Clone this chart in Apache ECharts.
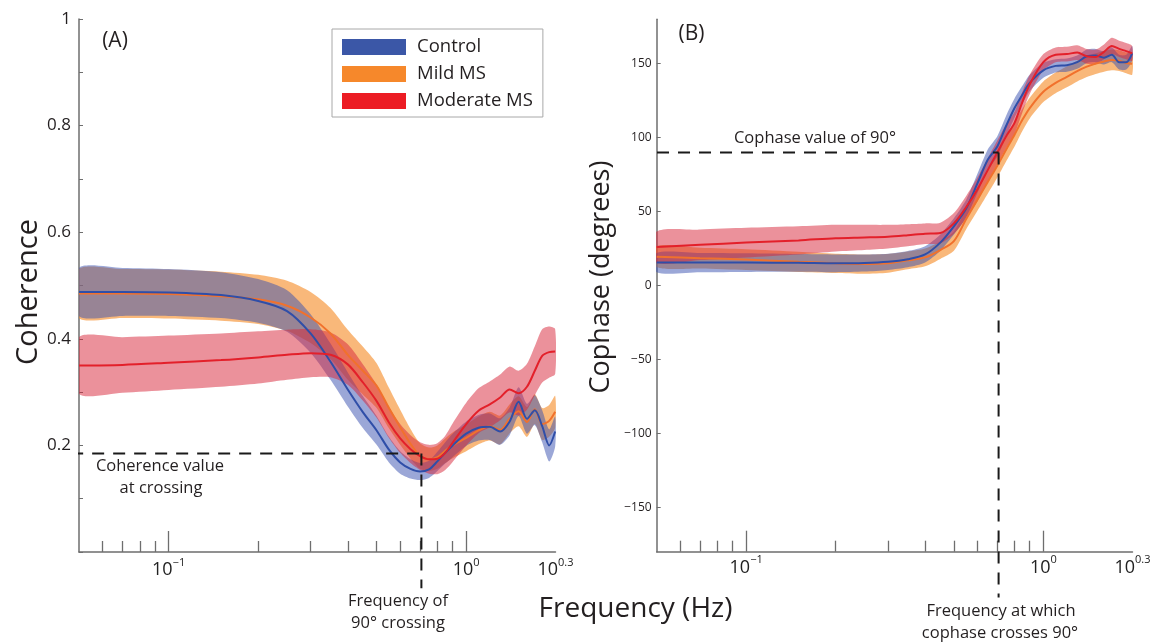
<!DOCTYPE html>
<html><head><meta charset="utf-8">
<script src="https://cdn.jsdelivr.net/npm/echarts@6.0.0/dist/echarts.min.js"></script>
<style>html,body{margin:0;padding:0;background:#fff}#c{width:1161px;height:642px}</style>
</head><body><div id="c"></div>
<script>
// ---------- data ----------
const seriesNames = ['Control', 'Mild MS', 'Moderate MS'];

// Panel A: coherence
const freqA = [0.05,0.07,0.1,0.15,0.2,0.25,0.3,0.35,0.4,0.45,0.5,0.55,0.6,0.65,0.7,0.75,0.8,0.85,0.9,1.0,1.1,1.2,1.3,1.4,1.5,1.6,1.7,1.8,1.9,1.99];
const cohControl  = [0.488,0.488,0.487,0.482,0.471,0.452,0.41,0.357,0.305,0.262,0.228,0.192,0.168,0.156,0.151,0.155,0.17,0.186,0.2,0.222,0.233,0.235,0.226,0.245,0.282,0.25,0.266,0.236,0.2,0.226];
const cohMild     = [0.485,0.485,0.484,0.48,0.474,0.462,0.44,0.41,0.37,0.34,0.312,0.27,0.234,0.203,0.18,0.174,0.178,0.19,0.2,0.214,0.228,0.236,0.229,0.25,0.264,0.244,0.268,0.24,0.246,0.263];
const cohModerate = [0.35,0.351,0.355,0.36,0.365,0.37,0.373,0.37,0.352,0.318,0.283,0.243,0.213,0.193,0.18,0.174,0.175,0.186,0.205,0.24,0.265,0.277,0.29,0.305,0.298,0.31,0.34,0.368,0.375,0.376];
const cohControlSpread  = [0.045,0.045,0.044,0.043,0.041,0.039,0.036,0.034,0.032,0.03,0.027,0.024,0.021,0.018,0.016,0.016,0.018,0.02,0.022,0.023,0.024,0.025,0.025,0.026,0.027,0.028,0.028,0.03,0.03,0.028];
const cohMildSpread     = [0.046,0.046,0.046,0.046,0.046,0.047,0.048,0.048,0.047,0.045,0.042,0.038,0.033,0.028,0.024,0.022,0.022,0.023,0.024,0.025,0.026,0.027,0.027,0.027,0.028,0.028,0.028,0.03,0.03,0.03];
const cohModerateSpread = [0.053,0.052,0.051,0.05,0.049,0.047,0.045,0.042,0.038,0.034,0.031,0.029,0.027,0.026,0.026,0.027,0.029,0.032,0.036,0.04,0.042,0.043,0.043,0.043,0.042,0.043,0.046,0.05,0.048,0.042];

// Panel B: cophase (degrees)
const freqB = [0.05,0.07,0.1,0.15,0.2,0.25,0.3,0.35,0.4,0.45,0.5,0.55,0.6,0.65,0.7,0.75,0.8,0.85,0.9,1.0,1.1,1.2,1.3,1.4,1.5,1.6,1.7,1.8,1.9,1.99];
const phaseControl  = [15.5,15.5,15.5,15.3,15,15.2,16,17.8,21,29,40,52,69,85,94,108,120,129,137,145.5,148.5,149,151,155,155.5,154,156,151,151,157];
const phaseMild     = [19.5,18.5,17.5,16,15,14.5,15,17,19,24,30,45,58,70,81,92,102,112,120,131,137,141,145,148,150,151.5,152.5,152,150.5,150];
const phaseModerate = [26,27.5,29,30.5,32,32.5,33,34,35,35.5,42,53,65,78,90,101,110,124,136,151,156,156.5,157.5,155,154.5,158,162,160,158.5,157];
const phaseControlSpread  = [6.5,6.5,6.3,6,6,5.8,5.5,5.5,5.5,5.5,5.5,6,6.5,7,7,7,6.5,6,5.5,5,4.5,4.5,4.5,4.5,4.5,4.5,5,5,5,5];
const phaseMildSpread     = [7,7,7,6.8,6.5,6.5,6.3,6,6,6,6.5,7,7.5,8,8,8,8,7.5,7,7,7,7,7,7,7,7,7,7,7,7.5];
const phaseModerateSpread = [10.5,10.3,10,9.5,9,8.5,8,7.5,7,7,7,7.5,8,8,8,8,7.5,7,6.5,5.5,5,5,5,5,5,5,5.5,5.5,5.5,5];

// Crossing annotation values
const crossingFreq = 0.707;
const crossingCoherence = 0.185;
const crossingPhase = 90;

// Axis ticks
const freqMin = 0.05, freqMaxExp = 0.3;
const majorFreqTicks = [0.1, 1];
const minorFreqTicks = [0.06,0.07,0.08,0.09,0.2,0.3,0.4,0.5,0.6,0.7,0.8,0.9,2];
const freqLabelExps = [-1, 0, 0.3];
const cohTicks = [0,0.1,0.2,0.3,0.4,0.5,0.6,0.7,0.8,0.9,1];
const phaseTicks = [-150,-100,-50,0,50,100,150];

// ---------- styling ----------
const FONT = 'Open Sans';
const lineColors = ['#2f4ea8', '#f1712c', '#e3202a'];
const legendColors = ['#3b57a7', '#f6882b', '#ec1c24'];
const bandColors = ['rgba(55,80,175,0.5)', 'rgba(245,140,40,0.62)', 'rgba(215,35,55,0.5)'];
const axisColor = '#6e6e6e';
const L = Math.log10;
const LMIN = L(freqMin), LMAX = freqMaxExp;

function bandSeries(freq, mean, spread, color, axIdx, z) {
  const upper = freq.map((f, i) => [L(f), mean[i] + spread[i]]);
  const lower = freq.map((f, i) => [L(f), mean[i] - spread[i]]);
  return {
    type: 'custom', xAxisIndex: axIdx.x, yAxisIndex: axIdx.y, silent: true, z: z, clip: true,
    data: freq.map((f, i) => [L(f), mean[i] - spread[i], mean[i] + spread[i]]),
    encode: { x: 0, y: [1, 2] },
    renderItem: function (params, api) {
      if (params.dataIndex !== 0) return null;
      const pts = upper.map(p => api.coord(p)).concat(lower.slice().reverse().map(p => api.coord(p)));
      return { type: 'polygon', shape: { points: pts, smooth: 0.25 }, style: { fill: color } };
    }
  };
}
function lineSeries(name, freq, vals, color, legendColor, axIdx) {
  return {
    type: 'line', name: name, xAxisIndex: axIdx.x, yAxisIndex: axIdx.y, z: 4,
    data: freq.map((f, i) => [L(f), vals[i]]),
    symbol: 'none', smooth: 0.3, silent: true,
    lineStyle: { color: color, width: 2 }, itemStyle: { color: legendColor }
  };
}
function dashSeries(pts, axIdx) {
  return {
    type: 'line', xAxisIndex: axIdx.x, yAxisIndex: axIdx.y, z: 6, clip: false, silent: true,
    data: pts, symbol: 'none',
    lineStyle: { color: '#1a1a1a', width: 2, type: [12, 9] }
  };
}
function expLabel(v) {
  const e = freqLabelExps.find(x => Math.abs(x - v) < 1e-6);
  if (e === undefined) return '';
  const s = e === -1 ? '\u22121' : (e === 0 ? '0' : '0.3');
  return '{b|10}{s|' + s + '}';
}
const richX = {
  b: { fontFamily: FONT, fontSize: 18, color: '#222', lineHeight: 26 },
  s: { fontFamily: FONT, fontSize: 11, color: '#222', lineHeight: 10, verticalAlign: 'top' }
};
function mainX(grid, margin) {
  return {
    type: 'value', gridIndex: grid, min: LMIN, max: LMAX, position: 'bottom',
    axisLine: { show: true, onZero: false, lineStyle: { color: axisColor, width: 1.5 } },
    axisTick: { show: true, inside: true, length: 21, customValues: majorFreqTicks.map(L), lineStyle: { color: axisColor, width: 1.3 } },
    axisLabel: { show: true, customValues: freqLabelExps, formatter: expLabel, rich: richX, margin: margin, hideOverlap: false },
    splitLine: { show: false }
  };
}
function minorX(grid) {
  return {
    type: 'value', gridIndex: grid, min: LMIN, max: LMAX, position: 'bottom',
    axisLine: { show: false, onZero: false },
    axisTick: { show: true, inside: true, length: 11, customValues: minorFreqTicks.map(L), lineStyle: { color: axisColor, width: 1.3 } },
    axisLabel: { show: false }, splitLine: { show: false }
  };
}

const A = { x: 0, y: 0 }, B = { x: 2, y: 1 };
const series = [
  bandSeries(freqA, cohMild, cohMildSpread, bandColors[1], A, 1),
  bandSeries(freqA, cohControl, cohControlSpread, bandColors[0], A, 2),
  bandSeries(freqA, cohModerate, cohModerateSpread, bandColors[2], A, 3),
  lineSeries(seriesNames[1], freqA, cohMild, lineColors[1], legendColors[1], A),
  lineSeries(seriesNames[0], freqA, cohControl, lineColors[0], legendColors[0], A),
  lineSeries(seriesNames[2], freqA, cohModerate, lineColors[2], legendColors[2], A),
  bandSeries(freqB, phaseMild, phaseMildSpread, bandColors[1], B, 1),
  bandSeries(freqB, phaseControl, phaseControlSpread, bandColors[0], B, 2),
  bandSeries(freqB, phaseModerate, phaseModerateSpread, bandColors[2], B, 3),
  lineSeries(seriesNames[1], freqB, phaseMild, lineColors[1], legendColors[1], B),
  lineSeries(seriesNames[0], freqB, phaseControl, lineColors[0], legendColors[0], B),
  lineSeries(seriesNames[2], freqB, phaseModerate, lineColors[2], legendColors[2], B),
  // crossing guides
  dashSeries([[L(0.034), crossingCoherence], [L(crossingFreq), crossingCoherence]], A),
  dashSeries([[L(crossingFreq), crossingCoherence], [L(crossingFreq), -0.068]], A),
  dashSeries([[L(0.0362), crossingPhase], [L(crossingFreq), crossingPhase]], B),
  dashSeries([[L(crossingFreq), crossingPhase], [L(crossingFreq), -211]], B)
];

function txt(text, x, y, size, rot) {
  return {
    type: 'text', x: x, y: y, rotation: rot || 0, silent: true, z: 10,
    style: { text: text, x: 0, y: 0, fill: '#231f20', font: size + 'px "' + FONT + '"',
      textAlign: 'center', textVerticalAlign: 'middle', align: 'center', verticalAlign: 'middle' }
  };
}

const option = {
  animation: false,
  backgroundColor: '#ffffff',
  textStyle: { fontFamily: FONT },
  grid: [
    { left: 79, top: 19, width: 476.5, height: 533 },
    { left: 656.7, top: 19.3, width: 475.8, height: 532.4 }
  ],
  legend: {
    show: true, orient: 'vertical', left: 332, top: 29,
    data: seriesNames.map((n, i) => ({ name: n, itemStyle: { color: legendColors[i] } })),
    icon: 'rect', itemWidth: 64, itemHeight: 16, itemGap: 7,
    padding: [8, 10, 6, 10], borderColor: '#a8a8a8', borderWidth: 1, backgroundColor: '#fff',
    selectedMode: false,
    textStyle: { fontFamily: FONT, fontSize: 18.5, color: '#231f20', lineHeight: 20, padding: [0, 0, 0, 6] }
  },
  xAxis: [mainX(0, 5), minorX(0), mainX(1, 3), minorX(1)],
  yAxis: [
    {
      type: 'value', gridIndex: 0, min: 0, max: 1,
      axisLine: { show: true, onZero: false, lineStyle: { color: axisColor, width: 1.5 } },
      axisTick: { show: true, inside: true, length: 4, customValues: cohTicks, lineStyle: { color: axisColor } },
      axisLabel: {
        customValues: [0.2, 0.4, 0.6, 0.8, 1], margin: 8,
        formatter: v => (Math.abs(v - 1) < 1e-6 ? '1' : v.toFixed(1)),
        fontFamily: FONT, fontSize: 17, color: '#231f20'
      },
      splitLine: { show: false }
    },
    {
      type: 'value', gridIndex: 1, min: -180, max: 180,
      axisLine: { show: true, onZero: false, lineStyle: { color: axisColor, width: 1.5 } },
      axisTick: { show: true, inside: true, length: 4, customValues: phaseTicks, lineStyle: { color: axisColor } },
      axisLabel: {
        customValues: phaseTicks, margin: 5,
        formatter: v => (v < 0 ? '\u2212' + Math.abs(v) : String(v)),
        fontFamily: FONT, fontSize: 12, color: '#231f20'
      },
      splitLine: { show: false }
    }
  ],
  series: series,
  graphic: [
    txt('(A)', 115, 41, 21),
    txt('(B)', 691.5, 34, 21),
    txt('Coherence', 29, 292, 29, Math.PI / 2),
    txt('Cophase (degrees)', 601, 277, 27, Math.PI / 2),
    txt('Frequency (Hz)', 635.5, 609, 28),
    txt('Coherence value', 160, 466, 16.5),
    txt('at crossing', 161, 488, 16.5),
    txt('Frequency of', 398, 601, 16.5),
    txt('90\u00b0 crossing', 398, 623, 16.5),
    txt('Cophase value of 90\u00b0', 815, 138, 16.5),
    txt('Frequency at which', 1001, 611, 16.5),
    txt('cophase crosses 90\u00b0', 1000, 633, 16.5)
  ]
};
const chart = echarts.init(document.getElementById('c'), null, { renderer: 'canvas' });
chart.setOption(option);
</script>
</body></html>
